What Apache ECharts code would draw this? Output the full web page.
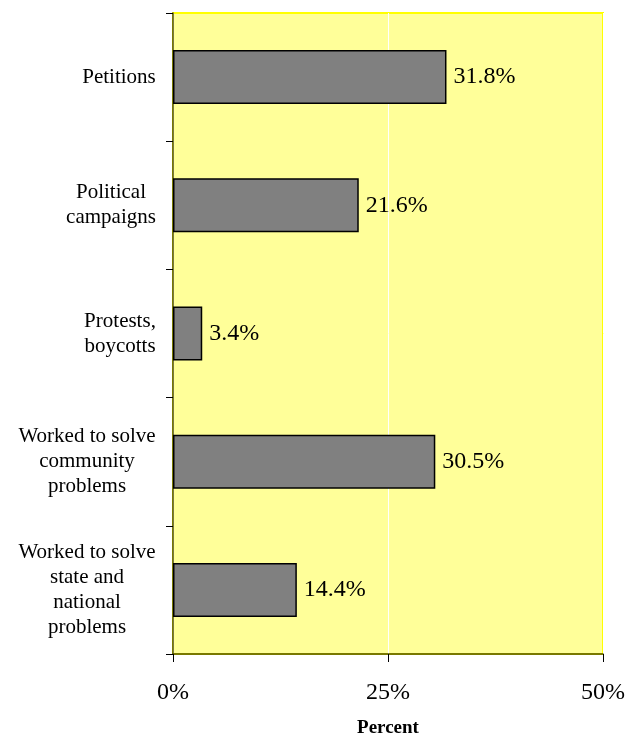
<!DOCTYPE html>
<html>
<head>
<meta charset="utf-8">
<script src="https://cdn.jsdelivr.net/npm/echarts@6/dist/echarts.min.js"></script>
<style>
html, body { margin: 0; padding: 0; background: #fff; }
#chart { width: 629px; height: 739px; }
</style>
</head>
<body>
<div id="chart"></div>
<script>
var categories = [
	'Petitions',
	'Political\ncampaigns',
	'Protests,\nboycotts',
	'Worked to solve\ncommunity\nproblems',
	'Worked to solve\nstate and\nnational\nproblems'
];
var values = [31.8, 21.6, 3.4, 30.5, 14.4];
var xTicks = [0, 25, 50];

var FONT = '"Liberation Serif", "Times New Roman", serif';
var LABEL_SIZE = 21;

// each label block is as wide as its longest line, lines centred inside it
var ctx = document.createElement('canvas').getContext('2d');
ctx.font = LABEL_SIZE + 'px ' + FONT;
var rich = {};
categories.forEach(function (c, i) {
	var w = 0;
	c.split('\n').forEach(function (line) {
		w = Math.max(w, ctx.measureText(line).width);
	});
	rich['c' + i] = {
		width: Math.ceil(w),
		align: 'center',
		fontFamily: FONT,
		fontSize: LABEL_SIZE,
		lineHeight: 25,
		color: '#000'
	};
});

var chart = echarts.init(document.getElementById('chart'));

var option = {
	animation: false,
	grid: {
		left: 173,
		right: 26,
		top: 13,
		bottom: 85,
		outerBoundsMode: 'none',
		show: true,
		backgroundColor: '#FFFF99',
		borderColor: '#FFFF00',
		borderWidth: 2
	},
	xAxis: {
		type: 'value',
		min: xTicks[0],
		max: xTicks[xTicks.length - 1],
		interval: 25,
		name: 'Percent',
		nameLocation: 'middle',
		nameGap: 65,
		nameTextStyle: {
			fontFamily: FONT,
			fontSize: 19,
			fontWeight: 'bold',
			color: '#000'
		},
		axisLine: { show: true, lineStyle: { color: '#4d4d00', width: 1.5 } },
		axisTick: { show: true, inside: false, length: 8, lineStyle: { color: '#000' } },
		axisLabel: {
			margin: 27,
			fontFamily: FONT,
			fontSize: 24,
			color: '#000',
			formatter: '{value}%'
		},
		splitLine: { show: true, lineStyle: { color: '#fff', width: 1 } }
	},
	yAxis: {
		type: 'category',
		inverse: true,
		data: categories,
		axisLine: { show: true, lineStyle: { color: '#4d4d00', width: 1.5 } },
		axisTick: { show: true, inside: false, length: 7, lineStyle: { color: '#000' } },
		axisLabel: {
			margin: 17,
			align: 'right',
			formatter: function (value, index) {
				return value.split('\n').map(function (line) {
					return '{c' + index + '|' + line + '}';
				}).join('\n');
			},
			rich: rich
		},
		splitLine: { show: false }
	},
	series: [{
		type: 'bar',
		data: values,
		barWidth: 54,
		itemStyle: {
			color: '#808080',
			borderColor: '#000',
			borderWidth: 1.5
		},
		label: {
			show: true,
			position: 'right',
			distance: 7,
			fontFamily: FONT,
			fontSize: 24,
			color: '#000',
			formatter: function (p) {
				return p.value.toFixed(1) + '%';
			}
		}
	}]
};

chart.setOption(option);
</script>
</body>
</html>
